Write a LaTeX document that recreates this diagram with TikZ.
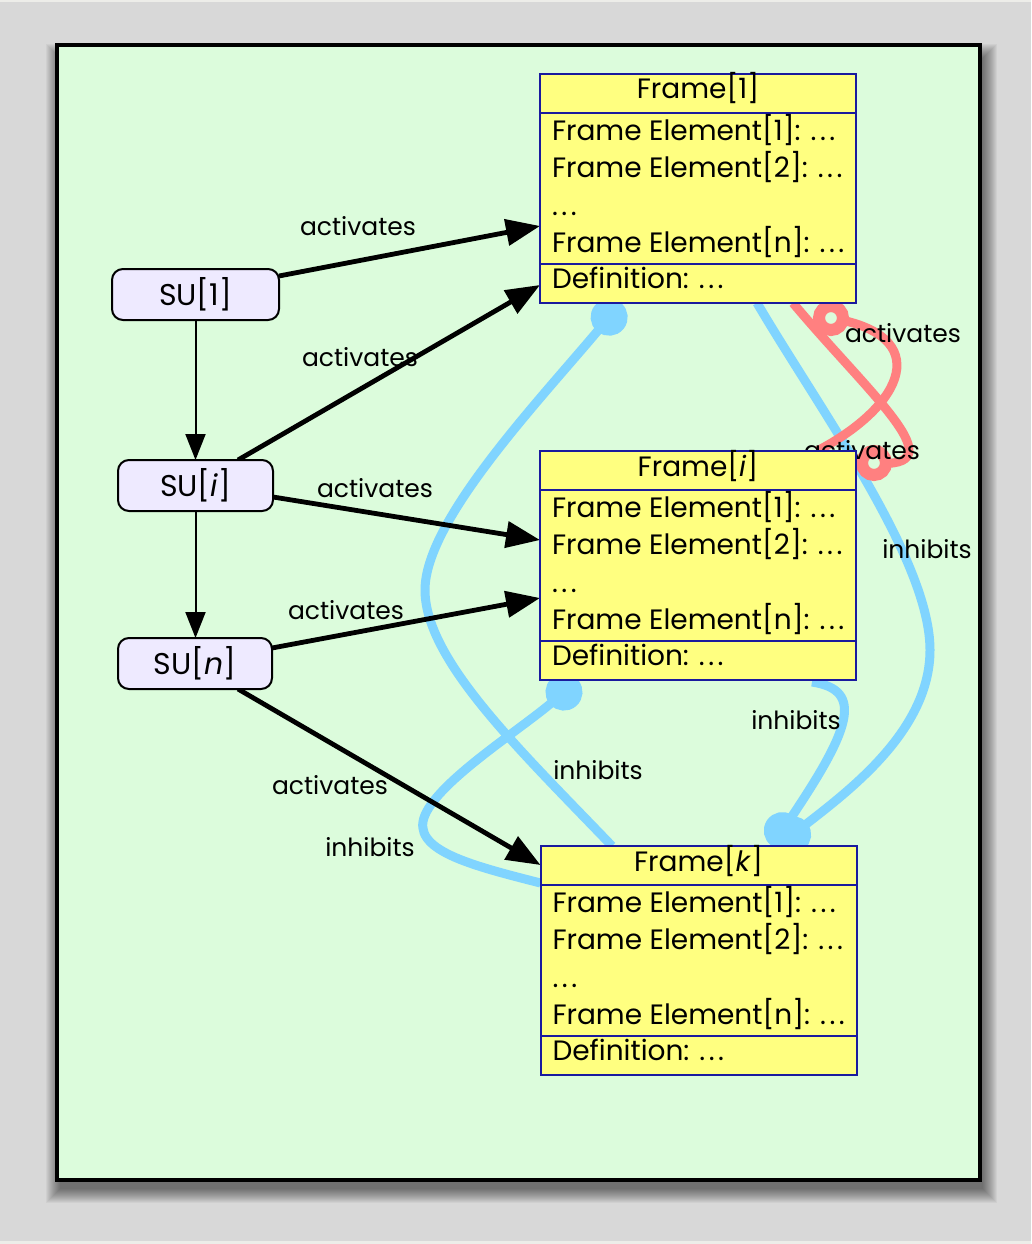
\documentclass[tikz,border=0pt]{standalone}
\usepackage{fontspec}
\setmainfont{Poppins}
\usetikzlibrary{arrows.meta,calc}

\definecolor{pagegrey}{HTML}{D8D8D8}
\definecolor{pageedge}{HTML}{EDEDE9}
\definecolor{panel}{HTML}{DCFCDC}
\definecolor{boxfill}{HTML}{FFFF80}
\definecolor{boxline}{HTML}{1A1A9E}
\definecolor{sufill}{HTML}{EEEAFF}
\definecolor{inhib}{HTML}{80D4FF}
\definecolor{activ}{HTML}{FF8080}

\newcommand\spdots{.\kern3.5pt.\kern3.5pt.}

\pgfdeclarelayer{back}
\pgfdeclarelayer{links}
\pgfsetlayers{back,links,main}

\begin{document}
\begin{tikzpicture}[x=1pt,y=-1pt,
  every node/.style={inner sep=0pt, outer sep=0pt},
  su/.style={draw=black, line width=2pt, fill=sufill, rounded corners=11pt,
    minimum height=51pt, font=\fontsize{30}{36}\selectfont},
  fbox/.style={draw=boxline, line width=2pt, fill=boxfill,
    minimum width=316pt, minimum height=229pt},
  fsep/.style={draw=boxline, line width=2pt},
  ftxt/.style={anchor=base west, font=\fontsize{28}{34}\selectfont},
  ftitle/.style={anchor=base, font=\fontsize{28}{34}\selectfont},
  lbl/.style={anchor=base, font=\fontsize{25}{30}\selectfont},
  seq/.style={line width=2pt, -{Triangle[length=26pt,width=20pt]}},
  act/.style={line width=4.8pt, -{Triangle[length=34pt,width=26pt]}},
  inh/.style={draw=inhib, line width=9pt, -{Circle[length=37pt,width=37pt]}},
  react/.style={draw=activ, line width=9pt},
  ring/.style={draw=activ, line width=12pt, fill=panel},
]
\useasboundingbox (0,0) rectangle (1031,1244);

% page, drop shadow and panel
\begin{pgfonlayer}{back}
  \fill[pagegrey] (0,0) rectangle (1031,1244);
  \fill[pageedge] (0,0) rectangle (1031,2);
  \fill[pageedge] (0,1241) rectangle (1031,1244);
  \foreach \i in {0,...,14}
    \fill[black, opacity=0.04] (60-\i,58-\i) rectangle (983+\i,1189+\i);
  \draw[line width=3.5pt, fill=panel] (57,45) rectangle (980,1180);
\end{pgfonlayer}

% situation units
\node[su, minimum width=167pt] (su1) at (195.5,294.5) {SU[1]};
\node[su, minimum width=155pt] (sui) at (195.5,485.5) {SU[\textit{i}]};
\node[su, minimum width=154pt] (sun) at (195,663.5) {SU[\textit{n}]};

% edge labels
\node[lbl] (a1) at (358,235) {activates};
\node[lbl] (a2) at (360,366) {activates};
\node[lbl] (a3) at (375,497) {activates};
\node[lbl] (a4) at (346,619) {activates};
\node[lbl] (a5) at (330,794) {activates};
\node[lbl] (a6) at (903,342) {activates};
\node[lbl] (a7) at (862,459) {activates};
\node[lbl] (h1) at (598,779) {inhibits};
\node[lbl] (h2) at (370,856) {inhibits};
\node[lbl] (h3) at (927,558) {inhibits};
\node[lbl] (h4) at (796,729) {inhibits};

% frames
\node[fbox] (f1) at (698,188.5) {};
\node[fbox] (fi) at (698,565.5) {};
\node[fbox] (fk) at (698.5,960.5) {};

\foreach \f/\t in {f1/1, fi/\textit{i}, fk/\textit{k}} {
  \draw[fsep] ([yshift=-39pt]\f.north west) -- ([yshift=-39pt]\f.north east);
  \draw[fsep] ([yshift=39pt]\f.south west) -- ([yshift=39pt]\f.south east);
  \node[ftitle] (\f-title) at ([yshift=-25pt]\f.north) {Frame[\t]};
  \node[ftxt] (\f-e1) at ([xshift=12pt,yshift=-66pt]\f.north west) {Frame Element[1]: \spdots};
  \node[ftxt] (\f-e2) at ([xshift=12pt,yshift=-103pt]\f.north west) {Frame Element[2]: \spdots};
  \node[ftxt] (\f-dots) at ([xshift=12pt,yshift=-141pt]\f.north west) {\spdots};
  \node[ftxt] (\f-en) at ([xshift=12pt,yshift=-178pt]\f.north west) {Frame Element[n]: \spdots};
  \node[ftxt] (\f-def) at ([xshift=12pt,yshift=-214pt]\f.north west) {Definition: \spdots};
}

\begin{pgfonlayer}{links}
  % inhibition links
  \draw[inh] ([xshift=-86.5pt]fk.north) .. controls (520,750) and (425,660) .. (425,590)
    .. controls (425,520) and (540,400) .. ([xshift=-77pt]f1.south);
  \draw[inh] ([yshift=-37pt]fk.north west) .. controls (470,865) and (410,850) .. (425,815)
    .. controls (440,780) and (520,730) .. ([xshift=-120pt]fi.south);
  \draw[inh] ([xshift=59pt]f1.south) .. controls (820,410) and (930,560) .. (930,650)
    .. controls (930,730) and (850,790) .. ([xshift=79.5pt]fk.north);
  \draw[inh] ([xshift=114pt,yshift=-2pt]fi.south) .. controls (865,690) and (850,730)
    .. ([xshift=73.5pt]fk.north);
  % mutual activation between frames, ending in open rings
  \coordinate (r1c) at (831,318);
  \coordinate (r2c) at (874,463);
  \draw[react] ([xshift=95pt]f1.south) .. controls (870,395) and (960,470) .. (r2c);
  \draw[react] ([xshift=119pt]fi.north) .. controls (905,405) and (935,335) .. (r1c);
  \draw[ring] (r1c) circle[radius=12pt];
  \draw[ring] (r2c) circle[radius=12pt];
  % sequence of situation units
  \draw[seq] (su1.south) -- (sui.north);
  \draw[seq] (sui.south) -- (sui.south |- sun.north);
  % activation of frames
  \draw[act] ([yshift=18.5pt]su1.east) -- ([yshift=-37.5pt]f1.west);
  \draw[act] ([xshift=42.5pt]sui.north) -- ([yshift=-96.5pt]f1.west);
  \draw[act] ([yshift=-11.5pt]sui.east) -- ([yshift=25.5pt]fi.west);
  \draw[act] ([yshift=15.5pt]sun.east) -- ([yshift=-32.5pt]fi.west);
  \draw[act] ([xshift=43pt]sun.south) -- ([yshift=-19pt]fk.north west);
\end{pgfonlayer}
\end{tikzpicture}
\end{document}
